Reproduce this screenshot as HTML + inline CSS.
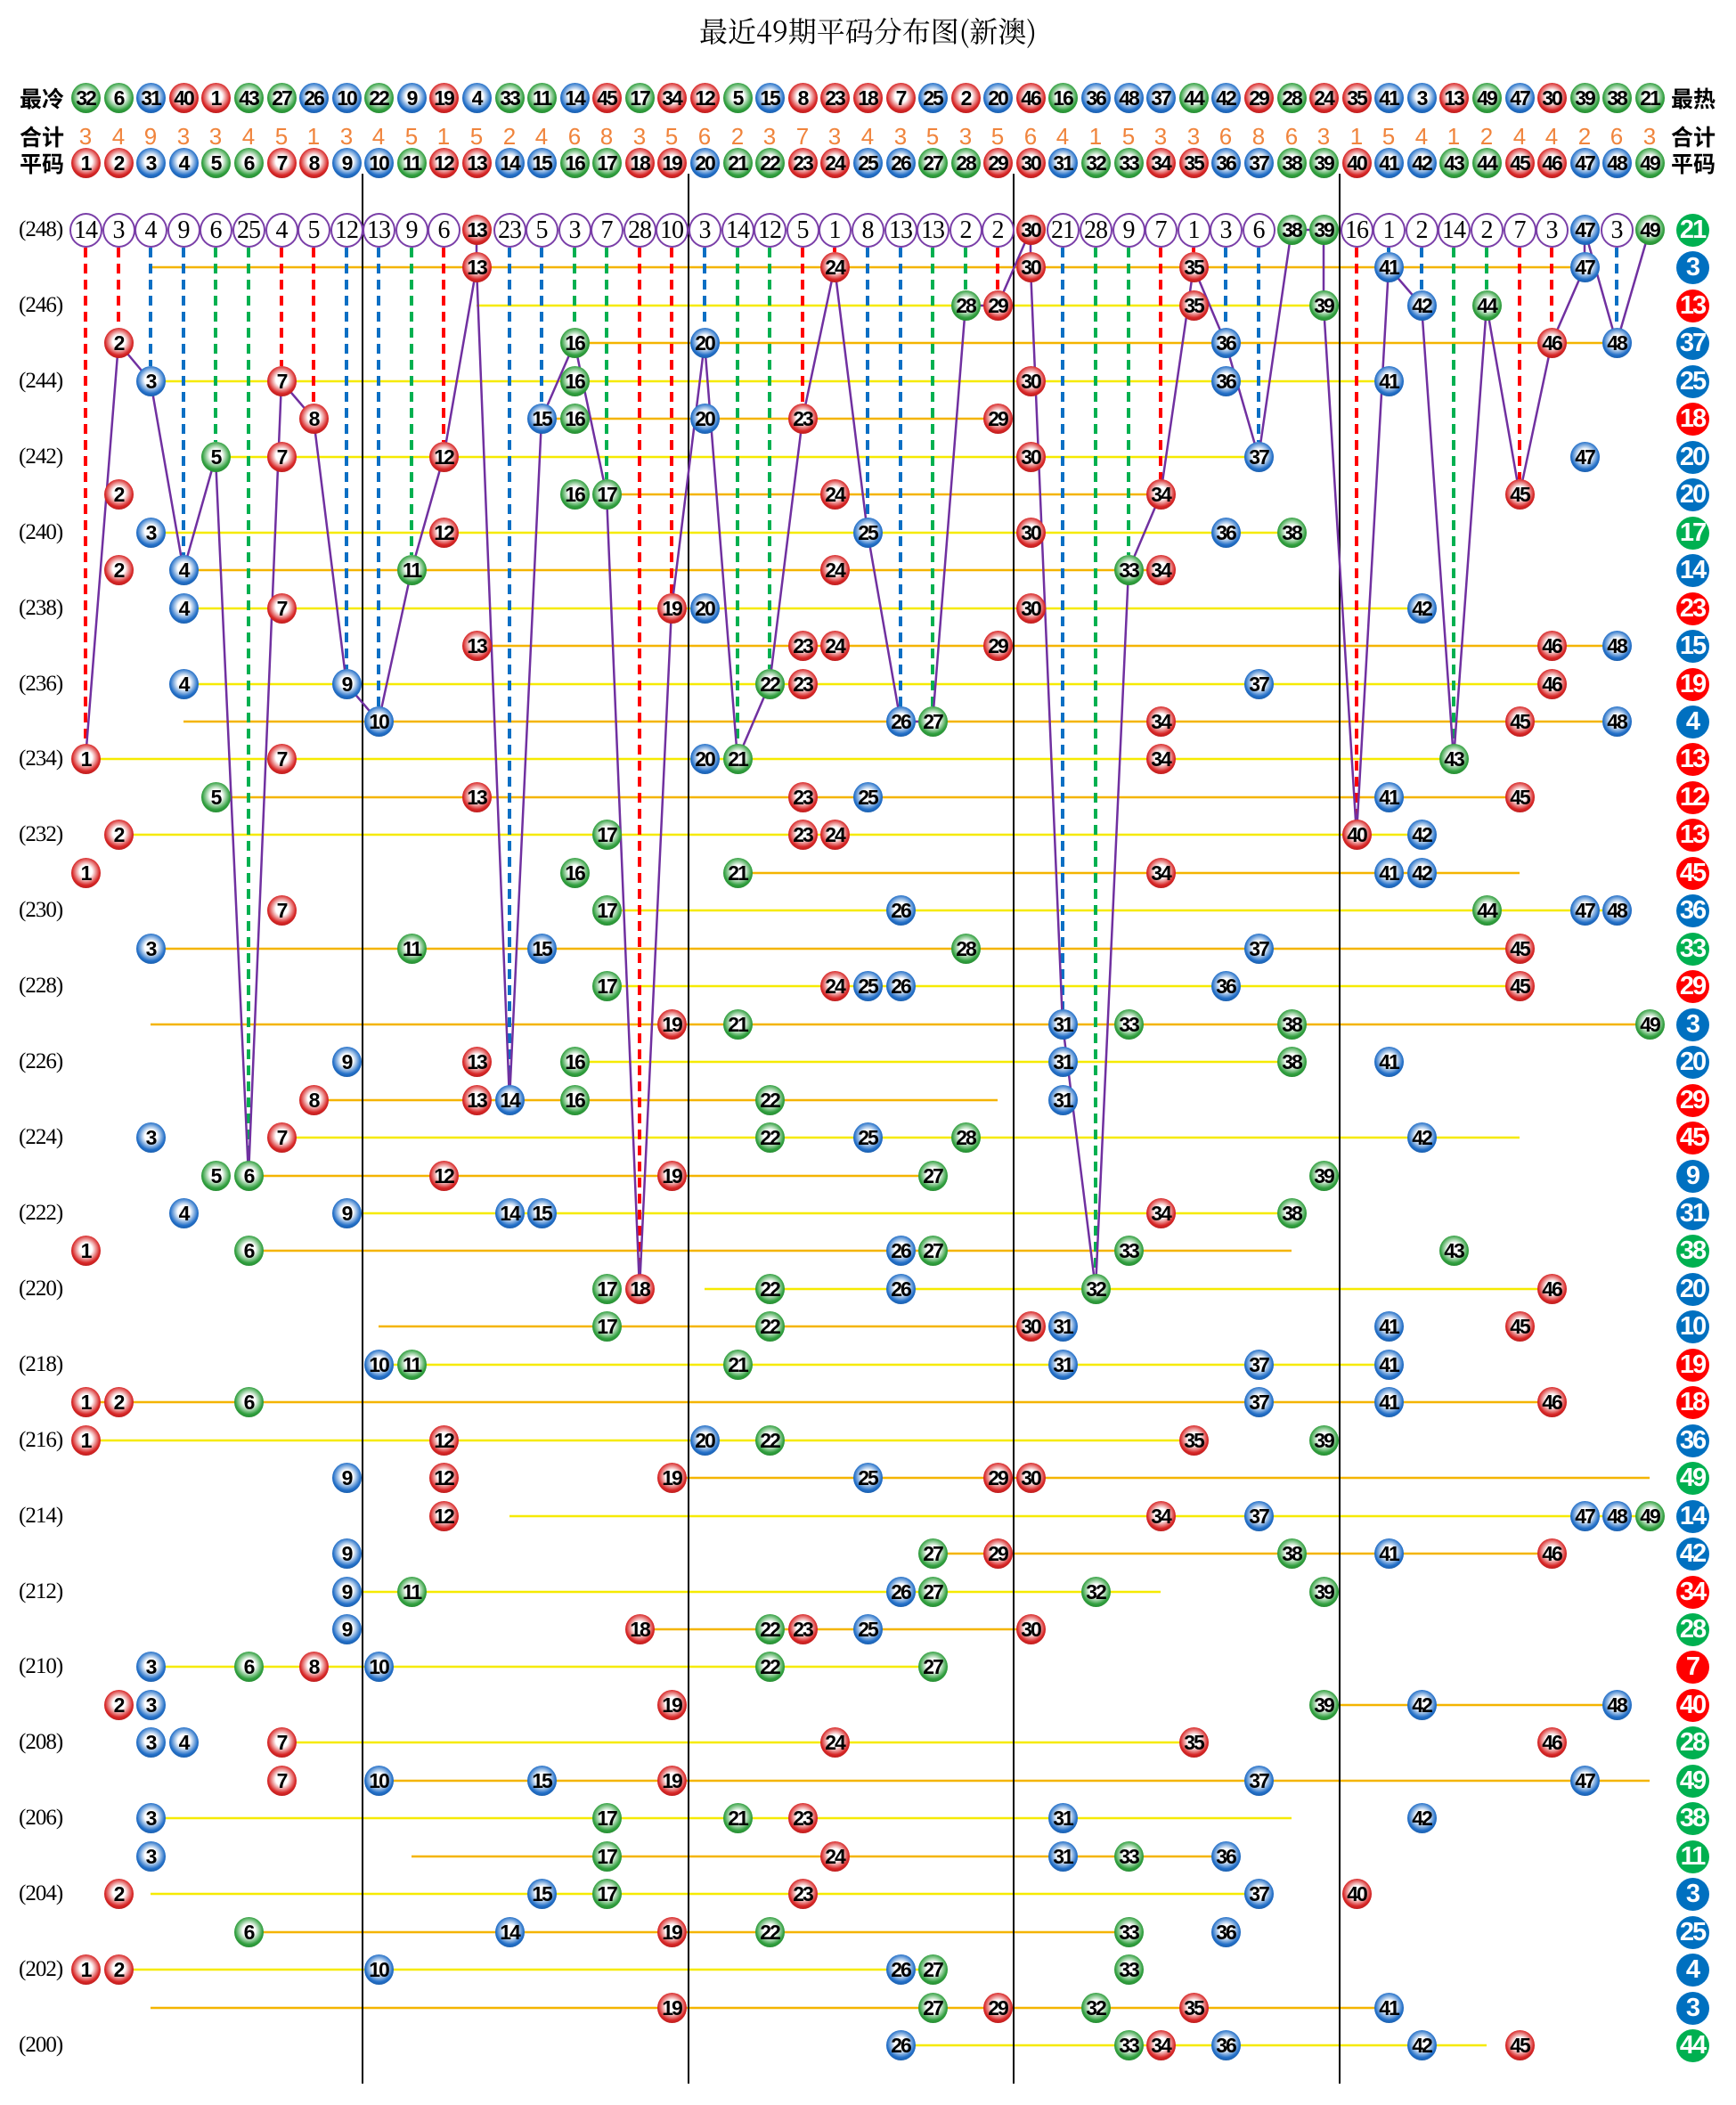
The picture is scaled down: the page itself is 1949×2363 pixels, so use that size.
<!DOCTYPE html>
<html><head><meta charset="utf-8">
<style>
body{margin:0;background:#fff;}
#w{position:relative;width:1949px;height:2363px;overflow:hidden;background:#fff;font-family:"Liberation Sans",sans-serif;}
svg{position:absolute;left:0;top:0}
.row{position:absolute;left:0;height:0;width:1949px}
i,s,u{position:absolute;top:-17px;width:33px;height:34px;margin-left:-16.5px;border-radius:50%;text-align:center;line-height:34px;font-style:normal;text-decoration:none;font-family:"Liberation Sans Narrow","Liberation Sans",sans-serif;font-weight:bold;font-size:23px;letter-spacing:-2px;color:#000}
.n1,.n2,.n7,.n8,.n12,.n13,.n18,.n19,.n23,.n24,.n29,.n30,.n34,.n35,.n40,.n45,.n46{background:radial-gradient(circle at 50% 45%,#fff 0,#fff 28%,#d82828 62%,#8c0808 100%)}
.n3,.n4,.n9,.n10,.n14,.n15,.n20,.n25,.n26,.n31,.n36,.n37,.n41,.n42,.n47,.n48{background:radial-gradient(circle at 50% 45%,#fff 0,#fff 28%,#2470c8 62%,#08407f 100%)}
.n5,.n6,.n11,.n16,.n17,.n21,.n22,.n27,.n28,.n32,.n33,.n38,.n39,.n43,.n44,.n49{background:radial-gradient(circle at 50% 45%,#fff 0,#fff 28%,#32a040 62%,#126a1a 100%)}
.n1{left:96px}.n2{left:133px}.n3{left:169px}.n4{left:206px}.n5{left:242px}.n6{left:279px}.n7{left:316px}.n8{left:352px}.n9{left:389px}.n10{left:425px}.n11{left:462px}.n12{left:498px}.n13{left:535px}.n14{left:572px}.n15{left:608px}.n16{left:645px}.n17{left:681px}.n18{left:718px}.n19{left:754px}.n20{left:791px}.n21{left:828px}.n22{left:864px}.n23{left:901px}.n24{left:937px}.n25{left:974px}.n26{left:1011px}.n27{left:1047px}.n28{left:1084px}.n29{left:1120px}.n30{left:1157px}.n31{left:1193px}.n32{left:1230px}.n33{left:1267px}.n34{left:1303px}.n35{left:1340px}.n36{left:1376px}.n37{left:1413px}.n38{left:1450px}.n39{left:1486px}.n40{left:1523px}.n41{left:1559px}.n42{left:1596px}.n43{left:1632px}.n44{left:1669px}.n45{left:1706px}.n46{left:1742px}.n47{left:1779px}.n48{left:1815px}.n49{left:1852px}
s.k{background:#fff;border:2px solid #7a3fa8;width:33px;height:35px;top:-19px;margin-left:-18.5px;line-height:36px;font-family:"Liberation Serif",serif;font-weight:normal;font-size:28px;letter-spacing:-1px}
u{left:1900px;width:37px;height:37px;margin-left:-18.5px;top:-18px;line-height:37px;color:#fff;font-size:29px;background:#0070c0}
u.R{background:#f00}u.G{background:#00b050}u.B{background:#0070c0}
em{position:absolute;left:21px;top:-15px;font-style:normal;font-family:"Liberation Serif",serif;font-size:25px;line-height:30px;letter-spacing:-1px}
b.o{position:absolute;top:-15px;width:30px;margin-left:-15px;text-align:center;font-weight:normal;color:#f0843c;font-size:26px;line-height:30px}
.lab{position:absolute;font-family:"Noto Sans CJK SC",sans-serif;font-weight:bold;font-size:25px;line-height:30px;top:-15px}
#t{position:absolute;top:12px;left:0;width:1949px;text-align:center;font-family:"Noto Serif CJK SC","Liberation Serif",serif;font-size:32px;line-height:44px}
</style></head><body><div id="w">
<div id="t">最近49期平码分布图(新澳)</div>
<svg width="1949" height="2363">
<path fill="none" stroke="#f4b400" stroke-width="2.5" d="M169 300H1779M645 385H1815M608 470H1120M681 555H1303M206 640H1303M535 725H1815M206 810H1815M242 895H1706M828 980H1706M169 1065H1706M169 1150H1852M352 1235H1120M279 1320H1047M279 1404H1450M425 1489H1157M96 1574H1742M754 1659H1852M1047 1744H1742M718 1829H1157M1486 1914H1815M425 1999H1852M462 2084H1376M279 2169H1267M169 2254H1559"/>
<path fill="none" stroke="#f6ea00" stroke-width="2.5" d="M535 343H1486M169 428H1559M242 513H1413M169 598H1450M206 683H1596M206 768H1742M96 852H1632M133 937H1596M681 1022H1815M681 1107H1706M645 1192H1450M316 1277H1706M389 1362H1450M791 1447H1742M425 1532H1559M96 1617H1340M572 1702H1852M389 1787H1303M169 1871H1047M316 1956H1340M169 2041H1450M169 2126H1413M133 2211H1047M1011 2296H1669"/>
<g stroke-width="4" stroke-dasharray="11 7" fill="none">
<path stroke="#f00" d="M96 278V835M133 278V368M316 278V411M352 278V453M498 278V496M718 278V1430M754 278V666M901 278V453M937 278V283M1120 278V326M1303 278V538M1340 278V283M1523 278V920M1706 278V538M1742 278V368"/>
<path stroke="#0a6fc4" d="M169 278V411M206 278V623M389 278V751M425 278V793M572 278V1218M608 278V453M791 278V368M974 278V581M1011 278V793M1193 278V1133M1376 278V368M1413 278V496M1559 278V283M1596 278V326M1815 278V368"/>
<path stroke="#00b050" d="M242 278V496M279 278V1303M462 278V623M645 278V368M681 278V538M828 278V835M864 278V751M1047 278V793M1084 278V326M1230 278V1430M1267 278V623M1632 278V835M1669 278V326"/>
</g>
<path fill="none" stroke="#000" stroke-width="2" d="M407 195V2339M773 195V2339M1138 195V2339M1504 195V2339"/>
<polyline fill="none" stroke="#7030a0" stroke-width="2.5" points="96,852 133,385 169,428 206,640 242,513 279,1320 316,428 352,470 389,768 425,810 462,640 498,513 535,300 535,258 535,300 572,1235 608,470 645,385 681,555 718,1447 754,683 791,385 828,852 864,768 901,470 937,300 974,598 1011,810 1047,810 1084,343 1120,343 1157,258 1157,300 1193,1150 1230,1447 1267,640 1303,555 1340,300 1376,385 1413,513 1450,258 1486,258 1486,343 1523,937 1559,300 1596,343 1632,852 1669,343 1706,555 1742,385 1779,300 1779,258 1815,385 1852,258"/>
</svg>

<div class="row" style="top:110px"><span class="lab" style="left:22px">最冷</span>
<i class="n32" style="left:96px">32</i><i class="n6" style="left:133px">6</i><i class="n31" style="left:169px">31</i><i class="n40" style="left:206px">40</i><i class="n1" style="left:242px">1</i><i class="n43" style="left:279px">43</i><i class="n27" style="left:316px">27</i><i class="n26" style="left:352px">26</i><i class="n10" style="left:389px">10</i><i class="n22" style="left:425px">22</i><i class="n9" style="left:462px">9</i><i class="n19" style="left:498px">19</i><i class="n4" style="left:535px">4</i><i class="n33" style="left:572px">33</i><i class="n11" style="left:608px">11</i><i class="n14" style="left:645px">14</i><i class="n45" style="left:681px">45</i><i class="n17" style="left:718px">17</i><i class="n34" style="left:754px">34</i><i class="n12" style="left:791px">12</i><i class="n5" style="left:828px">5</i><i class="n15" style="left:864px">15</i><i class="n8" style="left:901px">8</i><i class="n23" style="left:937px">23</i><i class="n18" style="left:974px">18</i><i class="n7" style="left:1011px">7</i><i class="n25" style="left:1047px">25</i><i class="n2" style="left:1084px">2</i><i class="n20" style="left:1120px">20</i><i class="n46" style="left:1157px">46</i><i class="n16" style="left:1193px">16</i><i class="n36" style="left:1230px">36</i><i class="n48" style="left:1267px">48</i><i class="n37" style="left:1303px">37</i><i class="n44" style="left:1340px">44</i><i class="n42" style="left:1376px">42</i><i class="n29" style="left:1413px">29</i><i class="n28" style="left:1450px">28</i><i class="n24" style="left:1486px">24</i><i class="n35" style="left:1523px">35</i><i class="n41" style="left:1559px">41</i><i class="n3" style="left:1596px">3</i><i class="n13" style="left:1632px">13</i><i class="n49" style="left:1669px">49</i><i class="n47" style="left:1706px">47</i><i class="n30" style="left:1742px">30</i><i class="n39" style="left:1779px">39</i><i class="n38" style="left:1815px">38</i><i class="n21" style="left:1852px">21</i>
<span class="lab" style="left:1876px">最热</span></div>

<div class="row" style="top:153px"><span class="lab" style="left:22px">合计</span>
<b class="o" style="left:96px">3</b><b class="o" style="left:133px">4</b><b class="o" style="left:169px">9</b><b class="o" style="left:206px">3</b><b class="o" style="left:242px">3</b><b class="o" style="left:279px">4</b><b class="o" style="left:316px">5</b><b class="o" style="left:352px">1</b><b class="o" style="left:389px">3</b><b class="o" style="left:425px">4</b><b class="o" style="left:462px">5</b><b class="o" style="left:498px">1</b><b class="o" style="left:535px">5</b><b class="o" style="left:572px">2</b><b class="o" style="left:608px">4</b><b class="o" style="left:645px">6</b><b class="o" style="left:681px">8</b><b class="o" style="left:718px">3</b><b class="o" style="left:754px">5</b><b class="o" style="left:791px">6</b><b class="o" style="left:828px">2</b><b class="o" style="left:864px">3</b><b class="o" style="left:901px">7</b><b class="o" style="left:937px">3</b><b class="o" style="left:974px">4</b><b class="o" style="left:1011px">3</b><b class="o" style="left:1047px">5</b><b class="o" style="left:1084px">3</b><b class="o" style="left:1120px">5</b><b class="o" style="left:1157px">6</b><b class="o" style="left:1193px">4</b><b class="o" style="left:1230px">1</b><b class="o" style="left:1267px">5</b><b class="o" style="left:1303px">3</b><b class="o" style="left:1340px">3</b><b class="o" style="left:1376px">6</b><b class="o" style="left:1413px">8</b><b class="o" style="left:1450px">6</b><b class="o" style="left:1486px">3</b><b class="o" style="left:1523px">1</b><b class="o" style="left:1559px">5</b><b class="o" style="left:1596px">4</b><b class="o" style="left:1632px">1</b><b class="o" style="left:1669px">2</b><b class="o" style="left:1706px">4</b><b class="o" style="left:1742px">4</b><b class="o" style="left:1779px">2</b><b class="o" style="left:1815px">6</b><b class="o" style="left:1852px">3</b>
<span class="lab" style="left:1876px">合计</span></div>

<div class="row" style="top:183px"><span class="lab" style="left:22px">平码</span>
<i class="n1">1</i><i class="n2">2</i><i class="n3">3</i><i class="n4">4</i><i class="n5">5</i><i class="n6">6</i><i class="n7">7</i><i class="n8">8</i><i class="n9">9</i><i class="n10">10</i><i class="n11">11</i><i class="n12">12</i><i class="n13">13</i><i class="n14">14</i><i class="n15">15</i><i class="n16">16</i><i class="n17">17</i><i class="n18">18</i><i class="n19">19</i><i class="n20">20</i><i class="n21">21</i><i class="n22">22</i><i class="n23">23</i><i class="n24">24</i><i class="n25">25</i><i class="n26">26</i><i class="n27">27</i><i class="n28">28</i><i class="n29">29</i><i class="n30">30</i><i class="n31">31</i><i class="n32">32</i><i class="n33">33</i><i class="n34">34</i><i class="n35">35</i><i class="n36">36</i><i class="n37">37</i><i class="n38">38</i><i class="n39">39</i><i class="n40">40</i><i class="n41">41</i><i class="n42">42</i><i class="n43">43</i><i class="n44">44</i><i class="n45">45</i><i class="n46">46</i><i class="n47">47</i><i class="n48">48</i><i class="n49">49</i>
<span class="lab" style="left:1876px">平码</span></div>

<div class="row" style="top:258px"><em>(248)</em><s class="k n1">14</s><s class="k n2">3</s><s class="k n3">4</s><s class="k n4">9</s><s class="k n5">6</s><s class="k n6">25</s><s class="k n7">4</s><s class="k n8">5</s><s class="k n9">12</s><s class="k n10">13</s><s class="k n11">9</s><s class="k n12">6</s><i class="n13">13</i><s class="k n14">23</s><s class="k n15">5</s><s class="k n16">3</s><s class="k n17">7</s><s class="k n18">28</s><s class="k n19">10</s><s class="k n20">3</s><s class="k n21">14</s><s class="k n22">12</s><s class="k n23">5</s><s class="k n24">1</s><s class="k n25">8</s><s class="k n26">13</s><s class="k n27">13</s><s class="k n28">2</s><s class="k n29">2</s><i class="n30">30</i><s class="k n31">21</s><s class="k n32">28</s><s class="k n33">9</s><s class="k n34">7</s><s class="k n35">1</s><s class="k n36">3</s><s class="k n37">6</s><i class="n38">38</i><i class="n39">39</i><s class="k n40">16</s><s class="k n41">1</s><s class="k n42">2</s><s class="k n43">14</s><s class="k n44">2</s><s class="k n45">7</s><s class="k n46">3</s><i class="n47">47</i><s class="k n48">3</s><i class="n49">49</i><u class="G">21</u></div>
<div class="row" style="top:300px"><i class="n13">13</i><i class="n24">24</i><i class="n30">30</i><i class="n35">35</i><i class="n41">41</i><i class="n47">47</i><u class="B">3</u></div>
<div class="row" style="top:343px"><em>(246)</em><i class="n28">28</i><i class="n29">29</i><i class="n35">35</i><i class="n39">39</i><i class="n42">42</i><i class="n44">44</i><u class="R">13</u></div>
<div class="row" style="top:385px"><i class="n2">2</i><i class="n16">16</i><i class="n20">20</i><i class="n36">36</i><i class="n46">46</i><i class="n48">48</i><u class="B">37</u></div>
<div class="row" style="top:428px"><em>(244)</em><i class="n3">3</i><i class="n7">7</i><i class="n16">16</i><i class="n30">30</i><i class="n36">36</i><i class="n41">41</i><u class="B">25</u></div>
<div class="row" style="top:470px"><i class="n8">8</i><i class="n15">15</i><i class="n16">16</i><i class="n20">20</i><i class="n23">23</i><i class="n29">29</i><u class="R">18</u></div>
<div class="row" style="top:513px"><em>(242)</em><i class="n5">5</i><i class="n7">7</i><i class="n12">12</i><i class="n30">30</i><i class="n37">37</i><i class="n47">47</i><u class="B">20</u></div>
<div class="row" style="top:555px"><i class="n2">2</i><i class="n16">16</i><i class="n17">17</i><i class="n24">24</i><i class="n34">34</i><i class="n45">45</i><u class="B">20</u></div>
<div class="row" style="top:598px"><em>(240)</em><i class="n3">3</i><i class="n12">12</i><i class="n25">25</i><i class="n30">30</i><i class="n36">36</i><i class="n38">38</i><u class="G">17</u></div>
<div class="row" style="top:640px"><i class="n2">2</i><i class="n4">4</i><i class="n11">11</i><i class="n24">24</i><i class="n33">33</i><i class="n34">34</i><u class="B">14</u></div>
<div class="row" style="top:683px"><em>(238)</em><i class="n4">4</i><i class="n7">7</i><i class="n19">19</i><i class="n20">20</i><i class="n30">30</i><i class="n42">42</i><u class="R">23</u></div>
<div class="row" style="top:725px"><i class="n13">13</i><i class="n23">23</i><i class="n24">24</i><i class="n29">29</i><i class="n46">46</i><i class="n48">48</i><u class="B">15</u></div>
<div class="row" style="top:768px"><em>(236)</em><i class="n4">4</i><i class="n9">9</i><i class="n22">22</i><i class="n23">23</i><i class="n37">37</i><i class="n46">46</i><u class="R">19</u></div>
<div class="row" style="top:810px"><i class="n10">10</i><i class="n26">26</i><i class="n27">27</i><i class="n34">34</i><i class="n45">45</i><i class="n48">48</i><u class="B">4</u></div>
<div class="row" style="top:852px"><em>(234)</em><i class="n1">1</i><i class="n7">7</i><i class="n20">20</i><i class="n21">21</i><i class="n34">34</i><i class="n43">43</i><u class="R">13</u></div>
<div class="row" style="top:895px"><i class="n5">5</i><i class="n13">13</i><i class="n23">23</i><i class="n25">25</i><i class="n41">41</i><i class="n45">45</i><u class="R">12</u></div>
<div class="row" style="top:937px"><em>(232)</em><i class="n2">2</i><i class="n17">17</i><i class="n23">23</i><i class="n24">24</i><i class="n40">40</i><i class="n42">42</i><u class="R">13</u></div>
<div class="row" style="top:980px"><i class="n1">1</i><i class="n16">16</i><i class="n21">21</i><i class="n34">34</i><i class="n41">41</i><i class="n42">42</i><u class="R">45</u></div>
<div class="row" style="top:1022px"><em>(230)</em><i class="n7">7</i><i class="n17">17</i><i class="n26">26</i><i class="n44">44</i><i class="n47">47</i><i class="n48">48</i><u class="B">36</u></div>
<div class="row" style="top:1065px"><i class="n3">3</i><i class="n11">11</i><i class="n15">15</i><i class="n28">28</i><i class="n37">37</i><i class="n45">45</i><u class="G">33</u></div>
<div class="row" style="top:1107px"><em>(228)</em><i class="n17">17</i><i class="n24">24</i><i class="n25">25</i><i class="n26">26</i><i class="n36">36</i><i class="n45">45</i><u class="R">29</u></div>
<div class="row" style="top:1150px"><i class="n19">19</i><i class="n21">21</i><i class="n31">31</i><i class="n33">33</i><i class="n38">38</i><i class="n49">49</i><u class="B">3</u></div>
<div class="row" style="top:1192px"><em>(226)</em><i class="n9">9</i><i class="n13">13</i><i class="n16">16</i><i class="n31">31</i><i class="n38">38</i><i class="n41">41</i><u class="B">20</u></div>
<div class="row" style="top:1235px"><i class="n8">8</i><i class="n13">13</i><i class="n14">14</i><i class="n16">16</i><i class="n22">22</i><i class="n31">31</i><u class="R">29</u></div>
<div class="row" style="top:1277px"><em>(224)</em><i class="n3">3</i><i class="n7">7</i><i class="n22">22</i><i class="n25">25</i><i class="n28">28</i><i class="n42">42</i><u class="R">45</u></div>
<div class="row" style="top:1320px"><i class="n5">5</i><i class="n6">6</i><i class="n12">12</i><i class="n19">19</i><i class="n27">27</i><i class="n39">39</i><u class="B">9</u></div>
<div class="row" style="top:1362px"><em>(222)</em><i class="n4">4</i><i class="n9">9</i><i class="n14">14</i><i class="n15">15</i><i class="n34">34</i><i class="n38">38</i><u class="B">31</u></div>
<div class="row" style="top:1404px"><i class="n1">1</i><i class="n6">6</i><i class="n26">26</i><i class="n27">27</i><i class="n33">33</i><i class="n43">43</i><u class="G">38</u></div>
<div class="row" style="top:1447px"><em>(220)</em><i class="n17">17</i><i class="n18">18</i><i class="n22">22</i><i class="n26">26</i><i class="n32">32</i><i class="n46">46</i><u class="B">20</u></div>
<div class="row" style="top:1489px"><i class="n17">17</i><i class="n22">22</i><i class="n30">30</i><i class="n31">31</i><i class="n41">41</i><i class="n45">45</i><u class="B">10</u></div>
<div class="row" style="top:1532px"><em>(218)</em><i class="n10">10</i><i class="n11">11</i><i class="n21">21</i><i class="n31">31</i><i class="n37">37</i><i class="n41">41</i><u class="R">19</u></div>
<div class="row" style="top:1574px"><i class="n1">1</i><i class="n2">2</i><i class="n6">6</i><i class="n37">37</i><i class="n41">41</i><i class="n46">46</i><u class="R">18</u></div>
<div class="row" style="top:1617px"><em>(216)</em><i class="n1">1</i><i class="n12">12</i><i class="n20">20</i><i class="n22">22</i><i class="n35">35</i><i class="n39">39</i><u class="B">36</u></div>
<div class="row" style="top:1659px"><i class="n9">9</i><i class="n12">12</i><i class="n19">19</i><i class="n25">25</i><i class="n29">29</i><i class="n30">30</i><u class="G">49</u></div>
<div class="row" style="top:1702px"><em>(214)</em><i class="n12">12</i><i class="n34">34</i><i class="n37">37</i><i class="n47">47</i><i class="n48">48</i><i class="n49">49</i><u class="B">14</u></div>
<div class="row" style="top:1744px"><i class="n9">9</i><i class="n27">27</i><i class="n29">29</i><i class="n38">38</i><i class="n41">41</i><i class="n46">46</i><u class="B">42</u></div>
<div class="row" style="top:1787px"><em>(212)</em><i class="n9">9</i><i class="n11">11</i><i class="n26">26</i><i class="n27">27</i><i class="n32">32</i><i class="n39">39</i><u class="R">34</u></div>
<div class="row" style="top:1829px"><i class="n9">9</i><i class="n18">18</i><i class="n22">22</i><i class="n23">23</i><i class="n25">25</i><i class="n30">30</i><u class="G">28</u></div>
<div class="row" style="top:1871px"><em>(210)</em><i class="n3">3</i><i class="n6">6</i><i class="n8">8</i><i class="n10">10</i><i class="n22">22</i><i class="n27">27</i><u class="R">7</u></div>
<div class="row" style="top:1914px"><i class="n2">2</i><i class="n3">3</i><i class="n19">19</i><i class="n39">39</i><i class="n42">42</i><i class="n48">48</i><u class="R">40</u></div>
<div class="row" style="top:1956px"><em>(208)</em><i class="n3">3</i><i class="n4">4</i><i class="n7">7</i><i class="n24">24</i><i class="n35">35</i><i class="n46">46</i><u class="G">28</u></div>
<div class="row" style="top:1999px"><i class="n7">7</i><i class="n10">10</i><i class="n15">15</i><i class="n19">19</i><i class="n37">37</i><i class="n47">47</i><u class="G">49</u></div>
<div class="row" style="top:2041px"><em>(206)</em><i class="n3">3</i><i class="n17">17</i><i class="n21">21</i><i class="n23">23</i><i class="n31">31</i><i class="n42">42</i><u class="G">38</u></div>
<div class="row" style="top:2084px"><i class="n3">3</i><i class="n17">17</i><i class="n24">24</i><i class="n31">31</i><i class="n33">33</i><i class="n36">36</i><u class="G">11</u></div>
<div class="row" style="top:2126px"><em>(204)</em><i class="n2">2</i><i class="n15">15</i><i class="n17">17</i><i class="n23">23</i><i class="n37">37</i><i class="n40">40</i><u class="B">3</u></div>
<div class="row" style="top:2169px"><i class="n6">6</i><i class="n14">14</i><i class="n19">19</i><i class="n22">22</i><i class="n33">33</i><i class="n36">36</i><u class="B">25</u></div>
<div class="row" style="top:2211px"><em>(202)</em><i class="n1">1</i><i class="n2">2</i><i class="n10">10</i><i class="n26">26</i><i class="n27">27</i><i class="n33">33</i><u class="B">4</u></div>
<div class="row" style="top:2254px"><i class="n19">19</i><i class="n27">27</i><i class="n29">29</i><i class="n32">32</i><i class="n35">35</i><i class="n41">41</i><u class="B">3</u></div>
<div class="row" style="top:2296px"><em>(200)</em><i class="n26">26</i><i class="n33">33</i><i class="n34">34</i><i class="n36">36</i><i class="n42">42</i><i class="n45">45</i><u class="G">44</u></div>
</div></body></html>
